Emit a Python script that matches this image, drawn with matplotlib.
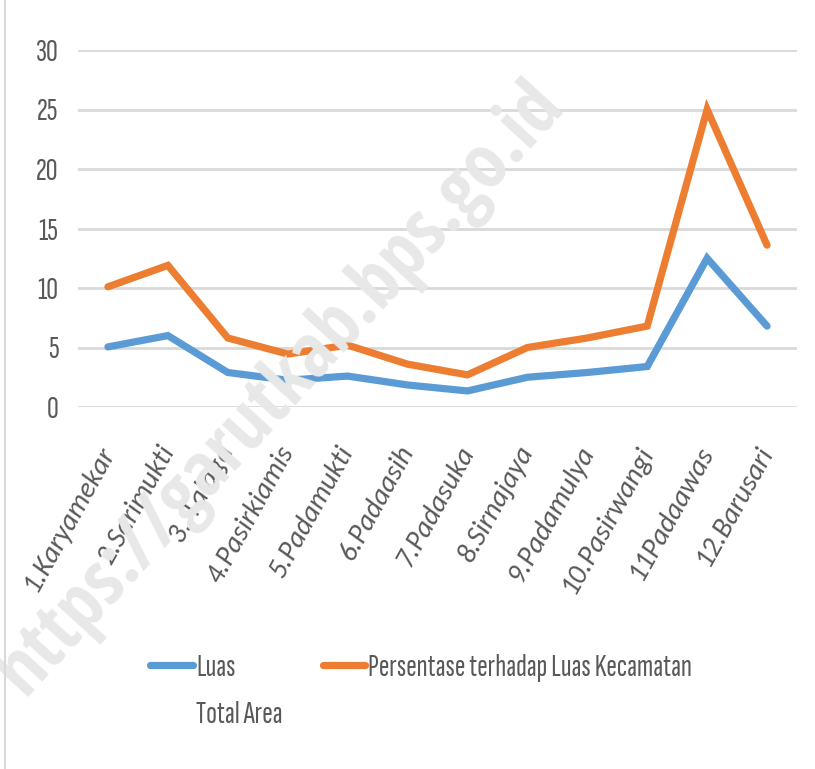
import matplotlib
matplotlib.use("Agg")
import matplotlib.pyplot as plt
from matplotlib.lines import Line2D

COND = ['Sofia Sans Extra Condensed', 'DejaVu Sans']
plt.rcParams['font.family'] = COND

categories = ["1.Karyamekar", "2.Sarimukti", "3. Talaga", "4.Pasirkiamis", "5.Padamukti",
              "6.Padaasih", "7.Padasuka", "8.Sirnajaya", "9.Padamulya", "10.Pasirwangi",
              "11Padaawas", "12.Barusari"]
luas = [5.05, 6.0, 2.9, 2.25, 2.6, 1.85, 1.35, 2.5, 2.9, 3.4, 12.5, 6.8]
persen = [10.1, 11.9, 5.8, 4.45, 5.2, 3.6, 2.7, 5.0, 5.8, 6.8, 25.0, 13.6]
yticks = [0, 5, 10, 15, 20, 25, 30]
legend_labels = ["Luas", "Persentase terhadap Luas Kecamatan"]
legend_sub = "Total Area"
watermark = "https://garutkab.bps.go.id"

BLUE = '#5b9bd5'
ORANGE = '#ed7d31'
GREY = '#595959'

fig = plt.figure(figsize=(8.15, 7.69), dpi=100)
ax = fig.add_axes([78 / 815, 1 - 407 / 769, 719 / 815, 357 / 769])

# watermark
fig.text(0.345, 0.495, watermark, rotation=47.5, rotation_mode='anchor', fontsize=55,
         fontweight='bold', color='#e8e8e8', ha='center', va='center',
         family=['Open Sans Condensed', 'DejaVu Sans'], zorder=0.5)

x = list(range(len(categories)))
ax.plot(x, luas, color=BLUE, lw=5.2, solid_capstyle='round', solid_joinstyle='miter', zorder=3)
ax.plot(x, persen, color=ORANGE, lw=5.2, solid_capstyle='round', solid_joinstyle='miter', zorder=3)

ax.set_xlim(-0.5, len(categories) - 0.5)
ax.set_ylim(0, 30)
ax.set_yticks(yticks)
ax.set_yticklabels([str(v) for v in yticks], fontsize=23.5, color=GREY)
ax.yaxis.grid(True, color='#d9d9d9', lw=2)
ax.set_axisbelow(True)
ax.tick_params(axis='y', length=0, pad=14)
ax.tick_params(axis='x', length=0, pad=29)
ax.set_xticks(x)
ax.set_xticklabels(categories, rotation=61, ha='right', va='center', rotation_mode='anchor',
                   fontsize=20.5, style='italic', color=GREY, family=['Carlito', 'DejaVu Sans'])
for s in ax.spines.values():
    s.set_visible(False)
ax.patch.set_alpha(0)

# chart border (left edge)
fig.add_artist(Line2D([5 / 815, 5 / 815], [0, 1], color='#d9d9d9', lw=1.5, transform=fig.transFigure))

handles = [Line2D([], [], color=BLUE, lw=5.2, solid_capstyle='round'),
           Line2D([], [], color=ORANGE, lw=5.2, solid_capstyle='round')]
fig.legend(handles, legend_labels, loc='center left',
           bbox_to_anchor=(150 / 815, 1 - 668 / 769), ncol=2, frameon=False, fontsize=22.8,
           labelcolor=GREY, handlelength=1.35, handletextpad=0.1, columnspacing=2.75,
           borderpad=0, borderaxespad=0)
fig.text(196 / 815, 1 - 715 / 769, legend_sub, fontsize=22.8, color=GREY, ha='left', va='center')

fig.savefig("out.png", dpi=100)
